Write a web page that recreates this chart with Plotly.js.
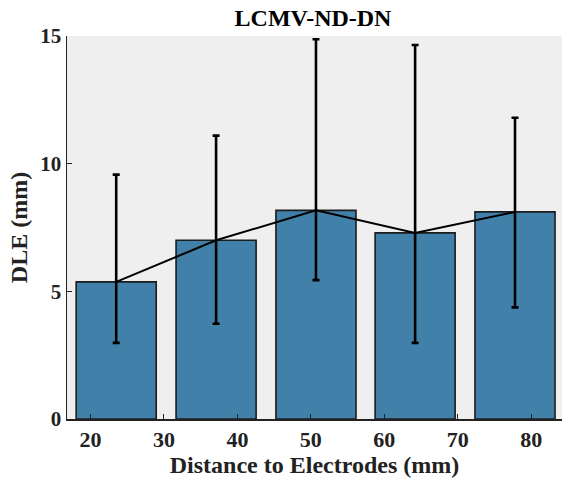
<!DOCTYPE html>
<html>
<head>
<meta charset="utf-8">
<script src="https://cdn.plot.ly/plotly-3.0.1.min.js"></script>
<style>html,body{margin:0;padding:0;background:#fff}#chart{width:562px;height:487px}</style>
</head>
<body>
<div id="chart"></div>
<script>
// Data
const binCenters = [23.5, 37.1, 50.7, 64.2, 77.8];   // distance (mm), bar centres
const meanDLE    = [5.37, 7.00, 8.17, 7.29, 8.11];   // mean DLE (mm)
const upperDLE   = [9.57, 11.1, 14.87, 14.65, 11.8]; // upper whisker
const lowerDLE   = [2.98, 3.73, 5.44, 2.98, 4.37];   // lower whisker
const xTicks     = [20, 30, 40, 50, 60, 70, 80];
const yTicks     = [0, 5, 10, 15];

const errPlus  = upperDLE.map((u, i) => u - meanDLE[i]);
const errMinus = meanDLE.map((m, i) => m - lowerDLE[i]);

const fontFam = '"Liberation Serif", "Times New Roman", serif';

const traces = [
  {
    type: 'bar',
    x: binCenters,
    y: meanDLE,
    width: 10.9,
    marker: {color: '#4180a8', line: {color: '#1c1c1c', width: 1.6}},
    hoverinfo: 'skip',
    showlegend: false
  },
  {
    type: 'scatter',
    mode: 'lines',
    x: binCenters,
    y: meanDLE,
    line: {color: '#000000', width: 2},
    error_y: {
      type: 'data',
      symmetric: false,
      array: errPlus,
      arrayminus: errMinus,
      color: '#000000',
      thickness: 2.6,
      width: 3.5
    },
    showlegend: false
  }
];

const layout = {
  width: 562,
  height: 487,
  margin: {l: 67, r: 0, t: 36, b: 68},
  paper_bgcolor: '#ffffff',
  plot_bgcolor: '#efefef',
  title: {
    text: '<b>LCMV-ND-DN</b>',
    font: {family: fontFam, size: 24, color: '#000'},
    x: 0.557, xanchor: 'center',
    y: 0.963, yanchor: 'middle'
  },
  xaxis: {
    range: [16.8, 84.2],
    tickvals: xTicks,
    ticktext: xTicks.map(v => '<b>' + v + '</b>'),
    ticks: 'inside',
    ticklen: 5,
    tickwidth: 1,
    tickcolor: '#222',
    showline: true,
    linecolor: '#222',
    linewidth: 1.5,
    showgrid: false,
    zeroline: false,
    tickfont: {family: fontFam, size: 22, color: '#222'},
    title: {text: '<b>Distance to Electrodes (mm)</b>', font: {family: fontFam, size: 24, color: '#222'}, standoff: 4}
  },
  yaxis: {
    range: [0, 15],
    tickvals: yTicks,
    ticktext: yTicks.map(v => '<b>' + v + '</b>'),
    ticks: 'inside',
    ticklen: 5,
    tickwidth: 1,
    tickcolor: '#222',
    showline: true,
    linecolor: '#222',
    linewidth: 1.5,
    showgrid: false,
    zeroline: false,
    tickfont: {family: fontFam, size: 21, color: '#222'},
    title: {text: '<b>DLE (mm)</b>', font: {family: fontFam, size: 24, color: '#222'}, standoff: 6}
  },
  bargap: 0
};

Plotly.newPlot('chart', traces, layout, {displayModeBar: false, staticPlot: true});
</script>
</body>
</html>
